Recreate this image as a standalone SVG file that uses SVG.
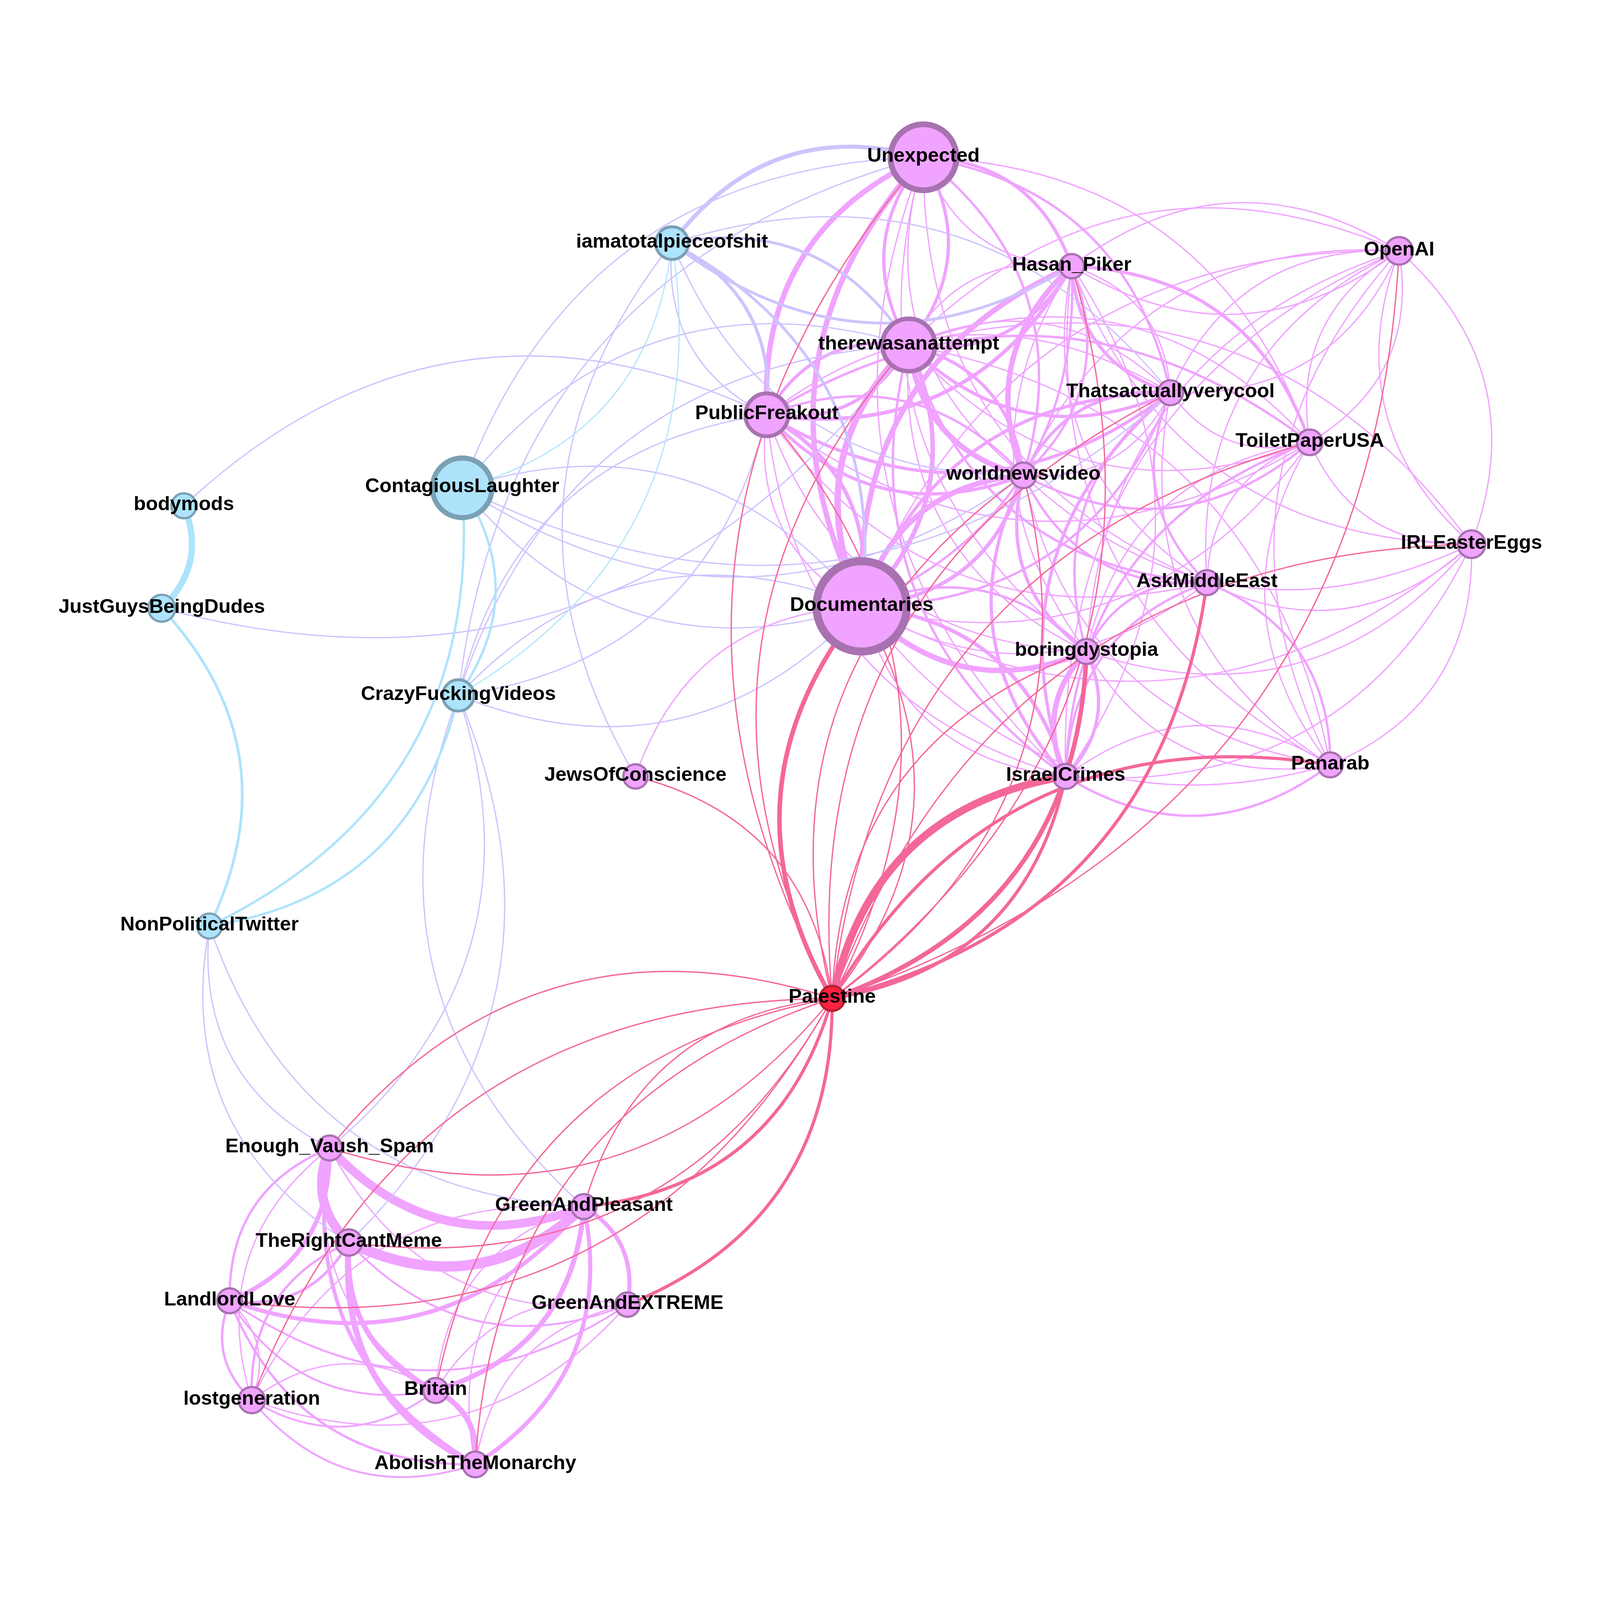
<svg xmlns="http://www.w3.org/2000/svg" width="5000" height="5000" viewBox="0 0 5000 5000">
<style>
#edges path{fill:none;vector-effect:non-scaling-stroke;stroke-linecap:round}
.p{stroke:#F0A3FF}.l{stroke:#CFC3FD}.b{stroke:#AEE3FC}.r{stroke:#F4679A}
.pk{fill:#F0A3FF;stroke:#A872B0}.bl{fill:#AEE3FC;stroke:#7BA0B4}.rd{fill:#FF2141;stroke:#B3202F}
text{font-family:"Liberation Sans",Arial,sans-serif;font-weight:bold;font-size:62px;text-anchor:middle;fill:#000}
</style>
<rect width="5000" height="5000" fill="#fff"/>
<g id="diagram" transform="scale(0.82)">
<g id="edges">
<path class="p" stroke-width="13.5" transform="matrix(-489 804 -804 -489 2883 491)" d="M0 0Q.5 .34 1 0"/>
<path class="p" stroke-width="13.5" transform="matrix(-193 1402 -1402 -193 2883 491)" d="M0 0Q.5 .34 1 0"/>
<path class="p" stroke-width="8.2" transform="matrix(-46 586 -586 -46 2883 491)" d="M0 0Q.5 .34 1 0"/>
<path class="p" stroke-width="8.2" transform="matrix(46 -586 586 46 2837 1077)" d="M0 0Q.5 .34 1 0"/>
<path class="p" stroke-width="6" transform="matrix(-312 -993 993 -312 3195 1484)" d="M0 0Q.5 .34 1 0"/>
<path class="p" stroke-width="3.3" transform="matrix(312 993 -993 312 2883 491)" d="M0 0Q.5 .34 1 0"/>
<path class="p" stroke-width="6" transform="matrix(-771 -735 735 -771 3654 1226)" d="M0 0Q.5 .34 1 0"/>
<path class="p" stroke-width="8.2" transform="matrix(-463 -340 340 -463 3346 831)" d="M0 0Q.5 .34 1 0"/>
<path class="p" stroke-width="3.3" transform="matrix(463 340 -340 463 2883 491)" d="M0 0Q.5 .34 1 0"/>
<path class="p" stroke-width="3.3" transform="matrix(509 1543 -1543 509 2883 491)" d="M0 0Q.5 .34 1 0"/>
<path class="p" stroke-width="3.3" transform="matrix(444 1933 -1933 444 2883 491)" d="M0 0Q.5 .34 1 0"/>
<path class="p" stroke-width="3.3" transform="matrix(885 1328 -1328 885 2883 491)" d="M0 0Q.5 .34 1 0"/>
<path class="p" stroke-width="3.3" transform="matrix(-1206 -890 890 -1206 4089 1381)" d="M0 0Q.5 .34 1 0"/>
<path class="p" stroke-width="16" transform="matrix(-147 816 -816 -147 2837 1077)" d="M0 0Q.5 .34 1 0"/>
<path class="p" stroke-width="11.5" transform="matrix(147 -816 816 147 2690 1893)" d="M0 0Q.5 .34 1 0"/>
<path class="p" stroke-width="8.2" transform="matrix(-443 218 -218 -443 2837 1077)" d="M0 0Q.5 .34 1 0"/>
<path class="p" stroke-width="8.2" transform="matrix(443 -218 218 443 2394 1295)" d="M0 0Q.5 .34 1 0"/>
<path class="p" stroke-width="13.5" transform="matrix(358 407 -407 358 2837 1077)" d="M0 0Q.5 .34 1 0"/>
<path class="p" stroke-width="8.2" transform="matrix(-358 -407 407 -358 3195 1484)" d="M0 0Q.5 .34 1 0"/>
<path class="p" stroke-width="8.2" transform="matrix(509 -246 246 509 2837 1077)" d="M0 0Q.5 .34 1 0"/>
<path class="p" stroke-width="3.3" transform="matrix(-509 246 -246 -509 3346 831)" d="M0 0Q.5 .34 1 0"/>
<path class="p" stroke-width="8.2" transform="matrix(817 149 -149 817 2837 1077)" d="M0 0Q.5 .34 1 0"/>
<path class="p" stroke-width="3.3" transform="matrix(-817 -149 149 -817 3654 1226)" d="M0 0Q.5 .34 1 0"/>
<path class="p" stroke-width="3.3" transform="matrix(1252 304 -304 1252 2837 1077)" d="M0 0Q.5 .34 1 0"/>
<path class="p" stroke-width="3.3" transform="matrix(-1252 -304 304 -1252 4089 1381)" d="M0 0Q.5 .34 1 0"/>
<path class="p" stroke-width="6" transform="matrix(931 742 -742 931 2837 1077)" d="M0 0Q.5 .34 1 0"/>
<path class="p" stroke-width="3.3" transform="matrix(555 957 -957 555 2837 1077)" d="M0 0Q.5 .34 1 0"/>
<path class="p" stroke-width="6" transform="matrix(490 1347 -1347 490 2837 1077)" d="M0 0Q.5 .34 1 0"/>
<path class="p" stroke-width="3.3" transform="matrix(-1757 -622 622 -1757 4594 1699)" d="M0 0Q.5 .34 1 0"/>
<path class="p" stroke-width="3.3" transform="matrix(-1316 -1311 1311 -1316 4153 2388)" d="M0 0Q.5 .34 1 0"/>
<path class="p" stroke-width="3.3" transform="matrix(-1531 294 -294 -1531 4368 783)" d="M0 0Q.5 .34 1 0"/>
<path class="p" stroke-width="9.5" transform="matrix(-296 -598 598 -296 2690 1893)" d="M0 0Q.5 .34 1 0"/>
<path class="p" stroke-width="3.3" transform="matrix(296 598 -598 296 2394 1295)" d="M0 0Q.5 .34 1 0"/>
<path class="p" stroke-width="8.2" transform="matrix(801 189 -189 801 2394 1295)" d="M0 0Q.5 .34 1 0"/>
<path class="p" stroke-width="6" transform="matrix(-801 -189 189 -801 3195 1484)" d="M0 0Q.5 .34 1 0"/>
<path class="p" stroke-width="9.5" transform="matrix(952 -464 464 952 2394 1295)" d="M0 0Q.5 .34 1 0"/>
<path class="p" stroke-width="8.2" transform="matrix(1260 -69 69 1260 2394 1295)" d="M0 0Q.5 .34 1 0"/>
<path class="p" stroke-width="3.3" transform="matrix(-1260 69 -69 -1260 3654 1226)" d="M0 0Q.5 .34 1 0"/>
<path class="p" stroke-width="6" transform="matrix(-1695 -86 86 -1695 4089 1381)" d="M0 0Q.5 .34 1 0"/>
<path class="p" stroke-width="3.3" transform="matrix(1695 86 -86 1695 2394 1295)" d="M0 0Q.5 .34 1 0"/>
<path class="p" stroke-width="3.3" transform="matrix(1374 524 -524 1374 2394 1295)" d="M0 0Q.5 .34 1 0"/>
<path class="p" stroke-width="3.3" transform="matrix(998 739 -739 998 2394 1295)" d="M0 0Q.5 .34 1 0"/>
<path class="p" stroke-width="3.3" transform="matrix(933 1129 -1129 933 2394 1295)" d="M0 0Q.5 .34 1 0"/>
<path class="p" stroke-width="13.5" transform="matrix(-151 653 -653 -151 3346 831)" d="M0 0Q.5 .34 1 0"/>
<path class="p" stroke-width="6" transform="matrix(151 -653 653 151 3195 1484)" d="M0 0Q.5 .34 1 0"/>
<path class="p" stroke-width="8.2" transform="matrix(308 395 -395 308 3346 831)" d="M0 0Q.5 .34 1 0"/>
<path class="p" stroke-width="3.3" transform="matrix(-308 -395 395 -308 3654 1226)" d="M0 0Q.5 .34 1 0"/>
<path class="p" stroke-width="8.2" transform="matrix(-743 -550 550 -743 4089 1381)" d="M0 0Q.5 .34 1 0"/>
<path class="p" stroke-width="13.5" transform="matrix(-656 1062 -1062 -656 3346 831)" d="M0 0Q.5 .34 1 0"/>
<path class="p" stroke-width="6" transform="matrix(656 -1062 1062 656 2690 1893)" d="M0 0Q.5 .34 1 0"/>
<path class="p" stroke-width="3.3" transform="matrix(46 1203 -1203 46 3346 831)" d="M0 0Q.5 .34 1 0"/>
<path class="p" stroke-width="3.3" transform="matrix(19 -1593 1593 19 3327 2424)" d="M0 0Q.5 .34 1 0"/>
<path class="p" stroke-width="3.3" transform="matrix(422 988 -988 422 3346 831)" d="M0 0Q.5 .34 1 0"/>
<path class="p" stroke-width="3.3" transform="matrix(807 1557 -1557 807 3346 831)" d="M0 0Q.5 .34 1 0"/>
<path class="p" stroke-width="3.3" transform="matrix(1248 868 -868 1248 3346 831)" d="M0 0Q.5 .34 1 0"/>
<path class="p" stroke-width="3.3" transform="matrix(1022 -48 48 1022 3346 831)" d="M0 0Q.5 .34 1 0"/>
<path class="p" stroke-width="3.3" transform="matrix(-1022 48 -48 -1022 4368 783)" d="M0 0Q.5 .34 1 0"/>
<path class="p" stroke-width="8.2" transform="matrix(-459 258 -258 -459 3654 1226)" d="M0 0Q.5 .34 1 0"/>
<path class="p" stroke-width="3.3" transform="matrix(459 -258 258 459 3195 1484)" d="M0 0Q.5 .34 1 0"/>
<path class="p" stroke-width="8.2" transform="matrix(-964 667 -667 -964 3654 1226)" d="M0 0Q.5 .34 1 0"/>
<path class="p" stroke-width="6" transform="matrix(964 -667 667 964 2690 1893)" d="M0 0Q.5 .34 1 0"/>
<path class="p" stroke-width="3.3" transform="matrix(435 155 -155 435 3654 1226)" d="M0 0Q.5 .34 1 0"/>
<path class="p" stroke-width="6" transform="matrix(114 593 -593 114 3654 1226)" d="M0 0Q.5 .34 1 0"/>
<path class="p" stroke-width="6" transform="matrix(-262 808 -808 -262 3654 1226)" d="M0 0Q.5 .34 1 0"/>
<path class="p" stroke-width="8.2" transform="matrix(-327 1198 -1198 -327 3654 1226)" d="M0 0Q.5 .34 1 0"/>
<path class="p" stroke-width="3.3" transform="matrix(499 1162 -1162 499 3654 1226)" d="M0 0Q.5 .34 1 0"/>
<path class="p" stroke-width="3.3" transform="matrix(-714 443 -443 -714 4368 783)" d="M0 0Q.5 .34 1 0"/>
<path class="p" stroke-width="3.3" transform="matrix(714 -443 443 714 3654 1226)" d="M0 0Q.5 .34 1 0"/>
<path class="p" stroke-width="13.5" transform="matrix(-505 409 -409 -505 3195 1484)" d="M0 0Q.5 .34 1 0"/>
<path class="p" stroke-width="9.5" transform="matrix(505 -409 409 505 2690 1893)" d="M0 0Q.5 .34 1 0"/>
<path class="p" stroke-width="6" transform="matrix(894 -103 103 894 3195 1484)" d="M0 0Q.5 .34 1 0"/>
<path class="p" stroke-width="6" transform="matrix(573 335 -335 573 3195 1484)" d="M0 0Q.5 .34 1 0"/>
<path class="p" stroke-width="8.2" transform="matrix(197 550 -550 197 3195 1484)" d="M0 0Q.5 .34 1 0"/>
<path class="p" stroke-width="8.2" transform="matrix(132 940 -940 132 3195 1484)" d="M0 0Q.5 .34 1 0"/>
<path class="p" stroke-width="3.3" transform="matrix(958 904 -904 958 3195 1484)" d="M0 0Q.5 .34 1 0"/>
<path class="p" stroke-width="3.3" transform="matrix(1399 215 -215 1399 3195 1484)" d="M0 0Q.5 .34 1 0"/>
<path class="p" stroke-width="3.3" transform="matrix(-1173 701 -701 -1173 4368 783)" d="M0 0Q.5 .34 1 0"/>
<path class="p" stroke-width="3.3" transform="matrix(1399 -512 512 1399 2690 1893)" d="M0 0Q.5 .34 1 0"/>
<path class="p" stroke-width="3.3" transform="matrix(1078 -74 74 1078 2690 1893)" d="M0 0Q.5 .34 1 0"/>
<path class="p" stroke-width="13.5" transform="matrix(702 141 -141 702 2690 1893)" d="M0 0Q.5 .34 1 0"/>
<path class="p" stroke-width="6" transform="matrix(-702 -141 141 -702 3392 2034)" d="M0 0Q.5 .34 1 0"/>
<path class="p" stroke-width="9.5" transform="matrix(-637 -531 531 -637 3327 2424)" d="M0 0Q.5 .34 1 0"/>
<path class="p" stroke-width="3.3" transform="matrix(637 531 -531 637 2690 1893)" d="M0 0Q.5 .34 1 0"/>
<path class="p" stroke-width="3.3" transform="matrix(1463 495 -495 1463 2690 1893)" d="M0 0Q.5 .34 1 0"/>
<path class="p" stroke-width="3.3" transform="matrix(1904 -194 194 1904 2690 1893)" d="M0 0Q.5 .34 1 0"/>
<path class="p" stroke-width="3.3" transform="matrix(-1678 1110 -1110 -1678 4368 783)" d="M0 0Q.5 .34 1 0"/>
<path class="p" stroke-width="3.3" transform="matrix(-706 531 -531 -706 2690 1893)" d="M0 0Q.5 .34 1 0"/>
<path class="p" stroke-width="3.3" transform="matrix(-321 438 -438 -321 4089 1381)" d="M0 0Q.5 .34 1 0"/>
<path class="p" stroke-width="3.3" transform="matrix(-697 653 -653 -697 4089 1381)" d="M0 0Q.5 .34 1 0"/>
<path class="p" stroke-width="6" transform="matrix(-762 1043 -1043 -762 4089 1381)" d="M0 0Q.5 .34 1 0"/>
<path class="p" stroke-width="3.3" transform="matrix(505 318 -318 505 4089 1381)" d="M0 0Q.5 .34 1 0"/>
<path class="p" stroke-width="3.3" transform="matrix(64 1007 -1007 64 4089 1381)" d="M0 0Q.5 .34 1 0"/>
<path class="p" stroke-width="3.3" transform="matrix(-279 598 -598 -279 4368 783)" d="M0 0Q.5 .34 1 0"/>
<path class="p" stroke-width="3.3" transform="matrix(279 -598 598 279 4089 1381)" d="M0 0Q.5 .34 1 0"/>
<path class="p" stroke-width="6" transform="matrix(-376 215 -215 -376 3768 1819)" d="M0 0Q.5 .34 1 0"/>
<path class="p" stroke-width="6" transform="matrix(-441 605 -605 -441 3768 1819)" d="M0 0Q.5 .34 1 0"/>
<path class="p" stroke-width="6" transform="matrix(-385 -569 569 -385 4153 2388)" d="M0 0Q.5 .34 1 0"/>
<path class="p" stroke-width="3.3" transform="matrix(826 -120 120 826 3768 1819)" d="M0 0Q.5 .34 1 0"/>
<path class="p" stroke-width="3.3" transform="matrix(-600 1036 -1036 -600 4368 783)" d="M0 0Q.5 .34 1 0"/>
<path class="p" stroke-width="13.5" transform="matrix(-65 390 -390 -65 3392 2034)" d="M0 0Q.5 .34 1 0"/>
<path class="p" stroke-width="8.2" transform="matrix(65 -390 390 65 3327 2424)" d="M0 0Q.5 .34 1 0"/>
<path class="p" stroke-width="3.3" transform="matrix(761 354 -354 761 3392 2034)" d="M0 0Q.5 .34 1 0"/>
<path class="p" stroke-width="3.3" transform="matrix(1202 -335 335 1202 3392 2034)" d="M0 0Q.5 .34 1 0"/>
<path class="p" stroke-width="3.3" transform="matrix(-976 1251 -1251 -976 4368 783)" d="M0 0Q.5 .34 1 0"/>
<path class="p" stroke-width="6" transform="matrix(826 -36 36 826 3327 2424)" d="M0 0Q.5 .34 1 0"/>
<path class="p" stroke-width="3.3" transform="matrix(-826 36 -36 -826 4153 2388)" d="M0 0Q.5 .34 1 0"/>
<path class="p" stroke-width="3.3" transform="matrix(1267 -725 725 1267 3327 2424)" d="M0 0Q.5 .34 1 0"/>
<path class="p" stroke-width="3.3" transform="matrix(-1041 1641 -1641 -1041 4368 783)" d="M0 0Q.5 .34 1 0"/>
<path class="p" stroke-width="3.3" transform="matrix(441 -689 689 441 4153 2388)" d="M0 0Q.5 .34 1 0"/>
<path class="p" stroke-width="3.3" transform="matrix(-215 1605 -1605 -215 4368 783)" d="M0 0Q.5 .34 1 0"/>
<path class="p" stroke-width="3.3" transform="matrix(-226 -916 916 -226 4594 1699)" d="M0 0Q.5 .34 1 0"/>
<path class="p" stroke-width="3.3" transform="matrix(226 916 -916 226 4368 783)" d="M0 0Q.5 .34 1 0"/>
<path class="p" stroke-width="22" transform="matrix(794 183 -183 794 1029 3584)" d="M0 0Q.5 .34 1 0"/>
<path class="p" stroke-width="26" transform="matrix(734 -112 112 734 1089 3879)" d="M0 0Q.5 .34 1 0"/>
<path class="p" stroke-width="24" transform="matrix(60 295 -295 60 1029 3584)" d="M0 0Q.5 .34 1 0"/>
<path class="p" stroke-width="6" transform="matrix(-312 477 -477 -312 1029 3584)" d="M0 0Q.5 .34 1 0"/>
<path class="p" stroke-width="11" transform="matrix(312 -477 477 312 717 4061)" d="M0 0Q.5 .34 1 0"/>
<path class="p" stroke-width="3.3" transform="matrix(-243 787 -787 -243 1029 3584)" d="M0 0Q.5 .34 1 0"/>
<path class="p" stroke-width="3.3" transform="matrix(930 489 -489 930 1029 3584)" d="M0 0Q.5 .34 1 0"/>
<path class="p" stroke-width="9.5" transform="matrix(455 988 -988 455 1029 3584)" d="M0 0Q.5 .34 1 0"/>
<path class="p" stroke-width="3.3" transform="matrix(331 757 -757 331 1029 3584)" d="M0 0Q.5 .34 1 0"/>
<path class="p" stroke-width="7.2" transform="matrix(372 -182 182 372 717 4061)" d="M0 0Q.5 .34 1 0"/>
<path class="p" stroke-width="6" transform="matrix(-303 492 -492 -303 1089 3879)" d="M0 0Q.5 .34 1 0"/>
<path class="p" stroke-width="13" transform="matrix(271 462 -462 271 1089 3879)" d="M0 0Q.5 .34 1 0"/>
<path class="p" stroke-width="15" transform="matrix(395 693 -693 395 1089 3879)" d="M0 0Q.5 .34 1 0"/>
<path class="p" stroke-width="4.8" transform="matrix(870 194 -194 870 1089 3879)" d="M0 0Q.5 .34 1 0"/>
<path class="p" stroke-width="10.5" transform="matrix(1106 -294 294 1106 717 4061)" d="M0 0Q.5 .34 1 0"/>
<path class="p" stroke-width="6" transform="matrix(69 310 -310 69 717 4061)" d="M0 0Q.5 .34 1 0"/>
<path class="p" stroke-width="3.3" transform="matrix(-69 -310 310 -69 786 4371)" d="M0 0Q.5 .34 1 0"/>
<path class="p" stroke-width="4.8" transform="matrix(643 280 -280 643 717 4061)" d="M0 0Q.5 .34 1 0"/>
<path class="p" stroke-width="6" transform="matrix(767 511 -511 767 717 4061)" d="M0 0Q.5 .34 1 0"/>
<path class="p" stroke-width="4.8" transform="matrix(1242 12 -12 1242 717 4061)" d="M0 0Q.5 .34 1 0"/>
<path class="p" stroke-width="4.8" transform="matrix(574 -30 30 574 786 4371)" d="M0 0Q.5 .34 1 0"/>
<path class="p" stroke-width="3.3" transform="matrix(-574 30 -30 -574 1360 4341)" d="M0 0Q.5 .34 1 0"/>
<path class="p" stroke-width="4.8" transform="matrix(698 201 -201 698 786 4371)" d="M0 0Q.5 .34 1 0"/>
<path class="p" stroke-width="3.3" transform="matrix(-1037 604 -604 -1037 1823 3767)" d="M0 0Q.5 .34 1 0"/>
<path class="p" stroke-width="3.3" transform="matrix(1173 -298 298 1173 786 4371)" d="M0 0Q.5 .34 1 0"/>
<path class="p" stroke-width="12.5" transform="matrix(463 -574 574 463 1360 4341)" d="M0 0Q.5 .34 1 0"/>
<path class="p" stroke-width="3.3" transform="matrix(-463 574 -574 -463 1823 3767)" d="M0 0Q.5 .34 1 0"/>
<path class="p" stroke-width="10.5" transform="matrix(339 -805 805 339 1484 4572)" d="M0 0Q.5 .34 1 0"/>
<path class="p" stroke-width="3.3" transform="matrix(-339 805 -805 -339 1823 3767)" d="M0 0Q.5 .34 1 0"/>
<path class="p" stroke-width="10.5" transform="matrix(-136 -306 306 -136 1959 4073)" d="M0 0Q.5 .34 1 0"/>
<path class="p" stroke-width="3.3" transform="matrix(-599 268 -268 -599 1959 4073)" d="M0 0Q.5 .34 1 0"/>
<path class="p" stroke-width="3.3" transform="matrix(-475 499 -499 -475 1959 4073)" d="M0 0Q.5 .34 1 0"/>
<path class="p" stroke-width="13.5" transform="matrix(-124 -231 231 -124 1484 4572)" d="M0 0Q.5 .34 1 0"/>
<path class="l" stroke-width="10.5" transform="matrix(-785 268 -268 -785 2883 491)" d="M0 0Q.5 .34 1 0"/>
<path class="l" stroke-width="3.3" transform="matrix(-1440 1032 -1032 -1440 2883 491)" d="M0 0Q.5 .34 1 0"/>
<path class="l" stroke-width="7" transform="matrix(-739 -318 318 -739 2837 1077)" d="M0 0Q.5 .34 1 0"/>
<path class="l" stroke-width="7" transform="matrix(1248 72 -72 1248 2098 759)" d="M0 0Q.5 .34 1 0"/>
<path class="l" stroke-width="8.2" transform="matrix(-296 -536 536 -296 2394 1295)" d="M0 0Q.5 .34 1 0"/>
<path class="l" stroke-width="3.3" transform="matrix(296 536 -536 296 2098 759)" d="M0 0Q.5 .34 1 0"/>
<path class="l" stroke-width="7" transform="matrix(-592 -1134 1134 -592 2690 1893)" d="M0 0Q.5 .34 1 0"/>
<path class="l" stroke-width="3.3" transform="matrix(1097 725 -725 1097 2098 759)" d="M0 0Q.5 .34 1 0"/>
<path class="l" stroke-width="3.3" transform="matrix(-1556 -467 467 -1556 3654 1226)" d="M0 0Q.5 .34 1 0"/>
<path class="l" stroke-width="3.3" transform="matrix(-114 1665 -1665 -114 2098 759)" d="M0 0Q.5 .34 1 0"/>
<path class="l" stroke-width="3.3" transform="matrix(-1247 -370 370 -1247 2690 1893)" d="M0 0Q.5 .34 1 0"/>
<path class="l" stroke-width="3.3" transform="matrix(1247 370 -370 1247 1443 1523)" d="M0 0Q.5 .34 1 0"/>
<path class="l" stroke-width="3.3" transform="matrix(1752 -39 39 1752 1443 1523)" d="M0 0Q.5 .34 1 0"/>
<path class="l" stroke-width="3.3" transform="matrix(2211 -297 297 2211 1443 1523)" d="M0 0Q.5 .34 1 0"/>
<path class="l" stroke-width="3.3" transform="matrix(-1394 446 -446 -1394 2837 1077)" d="M0 0Q.5 .34 1 0"/>
<path class="l" stroke-width="3.3" transform="matrix(-963 876 -876 -963 2394 1295)" d="M0 0Q.5 .34 1 0"/>
<path class="l" stroke-width="3.3" transform="matrix(963 -876 876 963 1431 2171)" d="M0 0Q.5 .34 1 0"/>
<path class="l" stroke-width="3.3" transform="matrix(-1406 1094 -1094 -1406 2837 1077)" d="M0 0Q.5 .34 1 0"/>
<path class="l" stroke-width="3.3" transform="matrix(1259 -278 278 1259 1431 2171)" d="M0 0Q.5 .34 1 0"/>
<path class="l" stroke-width="3.3" transform="matrix(-1259 278 -278 -1259 2690 1893)" d="M0 0Q.5 .34 1 0"/>
<path class="l" stroke-width="3.3" transform="matrix(-1452 1680 -1680 -1452 2883 491)" d="M0 0Q.5 .34 1 0"/>
<path class="l" stroke-width="3.3" transform="matrix(392 1596 -1596 392 1431 2171)" d="M0 0Q.5 .34 1 0"/>
<path class="l" stroke-width="3.3" transform="matrix(342 -1708 1708 342 1089 3879)" d="M0 0Q.5 .34 1 0"/>
<path class="l" stroke-width="3.3" transform="matrix(402 -1413 1413 402 1029 3584)" d="M0 0Q.5 .34 1 0"/>
<path class="l" stroke-width="3.3" transform="matrix(435 988 -988 435 654 2891)" d="M0 0Q.5 .34 1 0"/>
<path class="l" stroke-width="3.3" transform="matrix(375 693 -693 375 654 2891)" d="M0 0Q.5 .34 1 0"/>
<path class="l" stroke-width="3.3" transform="matrix(1169 876 -876 1169 654 2891)" d="M0 0Q.5 .34 1 0"/>
<path class="l" stroke-width="3.3" transform="matrix(-1820 284 -284 -1820 2394 1295)" d="M0 0Q.5 .34 1 0"/>
<path class="l" stroke-width="3.3" transform="matrix(2332 -822 822 2332 505 1899)" d="M0 0Q.5 .34 1 0"/>
<path class="b" stroke-width="16" transform="matrix(69 -320 320 69 505 1899)" d="M0 0Q.5 .34 1 0"/>
<path class="b" stroke-width="6.8" transform="matrix(-149 -992 992 -149 654 2891)" d="M0 0Q.5 .34 1 0"/>
<path class="b" stroke-width="6" transform="matrix(789 -1368 1368 789 654 2891)" d="M0 0Q.5 .34 1 0"/>
<path class="b" stroke-width="6" transform="matrix(777 -720 720 777 654 2891)" d="M0 0Q.5 .34 1 0"/>
<path class="b" stroke-width="6" transform="matrix(12 -648 648 12 1431 2171)" d="M0 0Q.5 .34 1 0"/>
<path class="b" stroke-width="2.8" transform="matrix(655 -764 764 655 1443 1523)" d="M0 0Q.5 .34 1 0"/>
<path class="b" stroke-width="2.8" transform="matrix(667 -1412 1412 667 1431 2171)" d="M0 0Q.5 .34 1 0"/>
<path class="r" stroke-width="11.5" transform="matrix(-92 1224 -1224 -92 2690 1893)" d="M0 0Q.5 .34 1 0"/>
<path class="r" stroke-width="3.3" transform="matrix(92 -1224 1224 92 2598 3117)" d="M0 0Q.5 .34 1 0"/>
<path class="r" stroke-width="3.3" transform="matrix(-285 2626 -2626 -285 2883 491)" d="M0 0Q.5 .34 1 0"/>
<path class="r" stroke-width="3.3" transform="matrix(-239 2040 -2040 -239 2837 1077)" d="M0 0Q.5 .34 1 0"/>
<path class="r" stroke-width="3.3" transform="matrix(-204 -1822 1822 -204 2598 3117)" d="M0 0Q.5 .34 1 0"/>
<path class="r" stroke-width="19" transform="matrix(-729 693 -693 -729 3327 2424)" d="M0 0Q.5 .34 1 0"/>
<path class="r" stroke-width="8.2" transform="matrix(729 -693 693 729 2598 3117)" d="M0 0Q.5 .34 1 0"/>
<path class="r" stroke-width="8.2" transform="matrix(-1555 729 -729 -1555 4153 2388)" d="M0 0Q.5 .34 1 0"/>
<path class="r" stroke-width="11.5" transform="matrix(794 -1083 1083 794 2598 3117)" d="M0 0Q.5 .34 1 0"/>
<path class="r" stroke-width="3.3" transform="matrix(1770 -2334 2334 1770 2598 3117)" d="M0 0Q.5 .34 1 0"/>
<path class="r" stroke-width="8.2" transform="matrix(1170 -1298 1298 1170 2598 3117)" d="M0 0Q.5 .34 1 0"/>
<path class="r" stroke-width="3.3" transform="matrix(-1996 1418 -1418 -1996 4594 1699)" d="M0 0Q.5 .34 1 0"/>
<path class="r" stroke-width="3.3" transform="matrix(-1491 1736 -1736 -1491 4089 1381)" d="M0 0Q.5 .34 1 0"/>
<path class="r" stroke-width="3.3" transform="matrix(-1056 1891 -1891 -1056 3654 1226)" d="M0 0Q.5 .34 1 0"/>
<path class="r" stroke-width="3.3" transform="matrix(748 -2286 2286 748 2598 3117)" d="M0 0Q.5 .34 1 0"/>
<path class="r" stroke-width="3.3" transform="matrix(597 -1633 1633 597 2598 3117)" d="M0 0Q.5 .34 1 0"/>
<path class="r" stroke-width="3.3" transform="matrix(-597 1633 -1633 -597 3195 1484)" d="M0 0Q.5 .34 1 0"/>
<path class="r" stroke-width="3.3" transform="matrix(-794 1083 -1083 -794 3392 2034)" d="M0 0Q.5 .34 1 0"/>
<path class="r" stroke-width="3.3" transform="matrix(-614 -693 693 -614 2598 3117)" d="M0 0Q.5 .34 1 0"/>
<path class="r" stroke-width="8.2" transform="matrix(639 -956 956 639 1959 4073)" d="M0 0Q.5 .34 1 0"/>
<path class="r" stroke-width="8.2" transform="matrix(775 -650 650 775 1823 3767)" d="M0 0Q.5 .34 1 0"/>
<path class="r" stroke-width="3.3" transform="matrix(-775 650 -650 -775 2598 3117)" d="M0 0Q.5 .34 1 0"/>
<path class="r" stroke-width="3.3" transform="matrix(1569 -467 467 1569 1029 3584)" d="M0 0Q.5 .34 1 0"/>
<path class="r" stroke-width="3.3" transform="matrix(-1569 467 -467 -1569 2598 3117)" d="M0 0Q.5 .34 1 0"/>
<path class="r" stroke-width="3.3" transform="matrix(-1812 1254 -1254 -1812 2598 3117)" d="M0 0Q.5 .34 1 0"/>
<path class="r" stroke-width="3.3" transform="matrix(1509 -762 762 1509 1089 3879)" d="M0 0Q.5 .34 1 0"/>
<path class="r" stroke-width="3.3" transform="matrix(1881 -944 944 1881 717 4061)" d="M0 0Q.5 .34 1 0"/>
<path class="r" stroke-width="3.3" transform="matrix(-1238 1224 -1224 -1238 2598 3117)" d="M0 0Q.5 .34 1 0"/>
<path class="r" stroke-width="3.3" transform="matrix(-1114 1455 -1455 -1114 2598 3117)" d="M0 0Q.5 .34 1 0"/>
</g>
<g id="n-Unexpected"><circle class="pk" cx="2883" cy="491" r="103" stroke-width="18"/><text x="2883" y="505">Unexpected</text></g>
<g id="n-iamatotalpieceofshit"><circle class="bl" cx="2098" cy="759" r="51" stroke-width="9"/><text x="2098" y="773">iamatotalpieceofshit</text></g>
<g id="n-Hasan_Piker"><circle class="pk" cx="3346" cy="831" r="38" stroke-width="7"/><text x="3346" y="845">Hasan_Piker</text></g>
<g id="n-OpenAI"><circle class="pk" cx="4368" cy="783" r="43" stroke-width="7"/><text x="4368" y="797">OpenAI</text></g>
<g id="n-therewasanattempt"><circle class="pk" cx="2837" cy="1077" r="82" stroke-width="14"/><text x="2837" y="1091">therewasanattempt</text></g>
<g id="n-Thatsactuallyverycool"><circle class="pk" cx="3654" cy="1226" r="39" stroke-width="7"/><text x="3654" y="1240">Thatsactuallyverycool</text></g>
<g id="n-PublicFreakout"><circle class="pk" cx="2394" cy="1295" r="67" stroke-width="12"/><text x="2394" y="1309">PublicFreakout</text></g>
<g id="n-ToiletPaperUSA"><circle class="pk" cx="4089" cy="1381" r="40" stroke-width="7"/><text x="4089" y="1395">ToiletPaperUSA</text></g>
<g id="n-worldnewsvideo"><circle class="pk" cx="3195" cy="1484" r="40" stroke-width="7"/><text x="3195" y="1498">worldnewsvideo</text></g>
<g id="n-ContagiousLaughter"><circle class="bl" cx="1443" cy="1523" r="93" stroke-width="16"/><text x="1443" y="1537">ContagiousLaughter</text></g>
<g id="n-bodymods"><circle class="bl" cx="574" cy="1579" r="39" stroke-width="7"/><text x="574" y="1593">bodymods</text></g>
<g id="n-IRLEasterEggs"><circle class="pk" cx="4594" cy="1699" r="43" stroke-width="7"/><text x="4594" y="1713">IRLEasterEggs</text></g>
<g id="n-AskMiddleEast"><circle class="pk" cx="3768" cy="1819" r="39" stroke-width="7"/><text x="3768" y="1833">AskMiddleEast</text></g>
<g id="n-Documentaries"><circle class="pk" cx="2690" cy="1893" r="141" stroke-width="25"/><text x="2690" y="1907">Documentaries</text></g>
<g id="n-JustGuysBeingDudes"><circle class="bl" cx="505" cy="1899" r="42" stroke-width="7"/><text x="505" y="1913">JustGuysBeingDudes</text></g>
<g id="n-boringdystopia"><circle class="pk" cx="3392" cy="2034" r="39" stroke-width="7"/><text x="3392" y="2048">boringdystopia</text></g>
<g id="n-CrazyFuckingVideos"><circle class="bl" cx="1431" cy="2171" r="49" stroke-width="9"/><text x="1431" y="2185">CrazyFuckingVideos</text></g>
<g id="n-JewsOfConscience"><circle class="pk" cx="1984" cy="2424" r="38" stroke-width="7"/><text x="1984" y="2438">JewsOfConscience</text></g>
<g id="n-IsraelCrimes"><circle class="pk" cx="3327" cy="2424" r="39" stroke-width="7"/><text x="3327" y="2438">IsraelCrimes</text></g>
<g id="n-Panarab"><circle class="pk" cx="4153" cy="2388" r="39" stroke-width="7"/><text x="4153" y="2402">Panarab</text></g>
<g id="n-NonPoliticalTwitter"><circle class="bl" cx="654" cy="2891" r="39" stroke-width="7"/><text x="654" y="2905">NonPoliticalTwitter</text></g>
<g id="n-Palestine"><circle class="rd" cx="2598" cy="3117" r="39" stroke-width="7"/><text x="2598" y="3131">Palestine</text></g>
<g id="n-Enough_Vaush_Spam"><circle class="pk" cx="1029" cy="3584" r="39" stroke-width="7"/><text x="1029" y="3598">Enough_Vaush_Spam</text></g>
<g id="n-GreenAndPleasant"><circle class="pk" cx="1823" cy="3767" r="39" stroke-width="7"/><text x="1823" y="3781">GreenAndPleasant</text></g>
<g id="n-TheRightCantMeme"><circle class="pk" cx="1089" cy="3879" r="41" stroke-width="7"/><text x="1089" y="3893">TheRightCantMeme</text></g>
<g id="n-LandlordLove"><circle class="pk" cx="717" cy="4061" r="39" stroke-width="7"/><text x="717" y="4075">LandlordLove</text></g>
<g id="n-GreenAndEXTREME"><circle class="pk" cx="1959" cy="4073" r="38" stroke-width="7"/><text x="1959" y="4087">GreenAndEXTREME</text></g>
<g id="n-Britain"><circle class="pk" cx="1360" cy="4341" r="39" stroke-width="7"/><text x="1360" y="4355">Britain</text></g>
<g id="n-lostgeneration"><circle class="pk" cx="786" cy="4371" r="41" stroke-width="7"/><text x="786" y="4385">lostgeneration</text></g>
<g id="n-AbolishTheMonarchy"><circle class="pk" cx="1484" cy="4572" r="40" stroke-width="7"/><text x="1484" y="4586">AbolishTheMonarchy</text></g>
</g>
</svg>
